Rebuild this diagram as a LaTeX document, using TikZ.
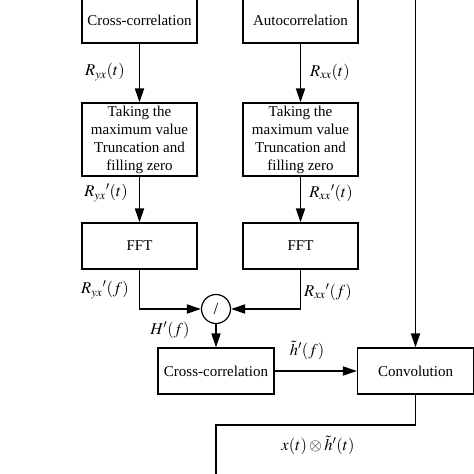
\documentclass[tikz,border=0pt]{standalone}
\usepackage{mathptmx}
\usepackage{fontspec}
\setmainfont{Liberation Serif}
\usetikzlibrary{arrows.meta,positioning}
\tikzset{
  blockbox/.style={draw,line width=1.2pt,minimum width=115pt,minimum height=46pt,
    inner sep=0pt,align=center,font=\fontsize{15}{18}\selectfont},
  divnode/.style={draw,circle,line width=1.2pt,minimum size=29pt,inner sep=0pt,
    font=\fontsize{17}{17}\selectfont},
  flowline/.style={line width=1.8pt,-{Triangle[length=14pt,width=9pt]}},
  plainline/.style={line width=1.8pt},
  siglabel/.style={inner sep=0pt,font=\fontsize{16.5}{18}\selectfont}
}

\begin{document}
\begin{tikzpicture}[x=1pt,y=-1pt]
  \useasboundingbox (0,0) rectangle (474,474);
  \clip (0,0) rectangle (474,474);
  \node[blockbox] (ccor) at (139.5,20) {Cross-correlation};
  \node[blockbox] (acor) at (300.5,20) {Autocorrelation};
  \node[blockbox,minimum height=73pt] (trunca) at (139.5,139.5)
    {Taking the\\maximum value\\Truncation and\\filling zero};
  \node[blockbox,minimum height=73pt] (truncb) at (300.5,139.5)
    {Taking the\\maximum value\\Truncation and\\filling zero};
  \node[blockbox] (ffta) at (139.5,246) {FFT};
  \node[blockbox] (fftb) at (300.5,246) {FFT};
  \node[divnode] (div) at (216,309) {/};
  \node[blockbox,minimum width=116pt] (ccorb) at (216,371) {Cross-correlation};
  \node[blockbox,minimum width=116pt] (conv) at (415.5,371) {Convolution};
  \coordinate (xin) at (415.5,-10);
  \coordinate (xout) at (216,490);

  \draw[flowline] (ccor) -- (trunca);
  \draw[flowline] (acor) -- (truncb);
  \draw[flowline] (trunca) -- (ffta);
  \draw[flowline] (truncb) -- (fftb);
  \draw[flowline] (ffta.south) |- (div.west);
  \draw[flowline] (fftb.south) |- (div.east);
  \draw[flowline] (div) -- (ccorb);
  \draw[flowline] (ccorb) -- (conv);
  \draw[flowline] (xin) -- (conv);
  \draw[plainline] (conv.south) -- (415.5,425) -| (xout);

  \node[siglabel] (ryx) at (105,72) {$R_{yx}(t)$};
  \node[siglabel] (rxx) at (330,72) {$R_{xx}(t)$};
  \node[siglabel] (ryxt) at (106,193) {$R_{yx}{}'(t)$};
  \node[siglabel] (rxxt) at (331,193) {$R_{xx}{}'(t)$};
  \node[siglabel] (ryxf) at (105,290) {$R_{yx}{}'(f)$};
  \node[siglabel] (rxxf) at (328,292) {$R_{xx}{}'(f)$};
  \node[siglabel] (hf) at (170,330) {$H'(f)$};
  \node[siglabel] (htf) at (307,350) {$\tilde{h}'(f)$};
  \node[siglabel] (conv out) at (318,445) {$x(t)\otimes\tilde{h}'(t)$};
\end{tikzpicture}
\end{document}
